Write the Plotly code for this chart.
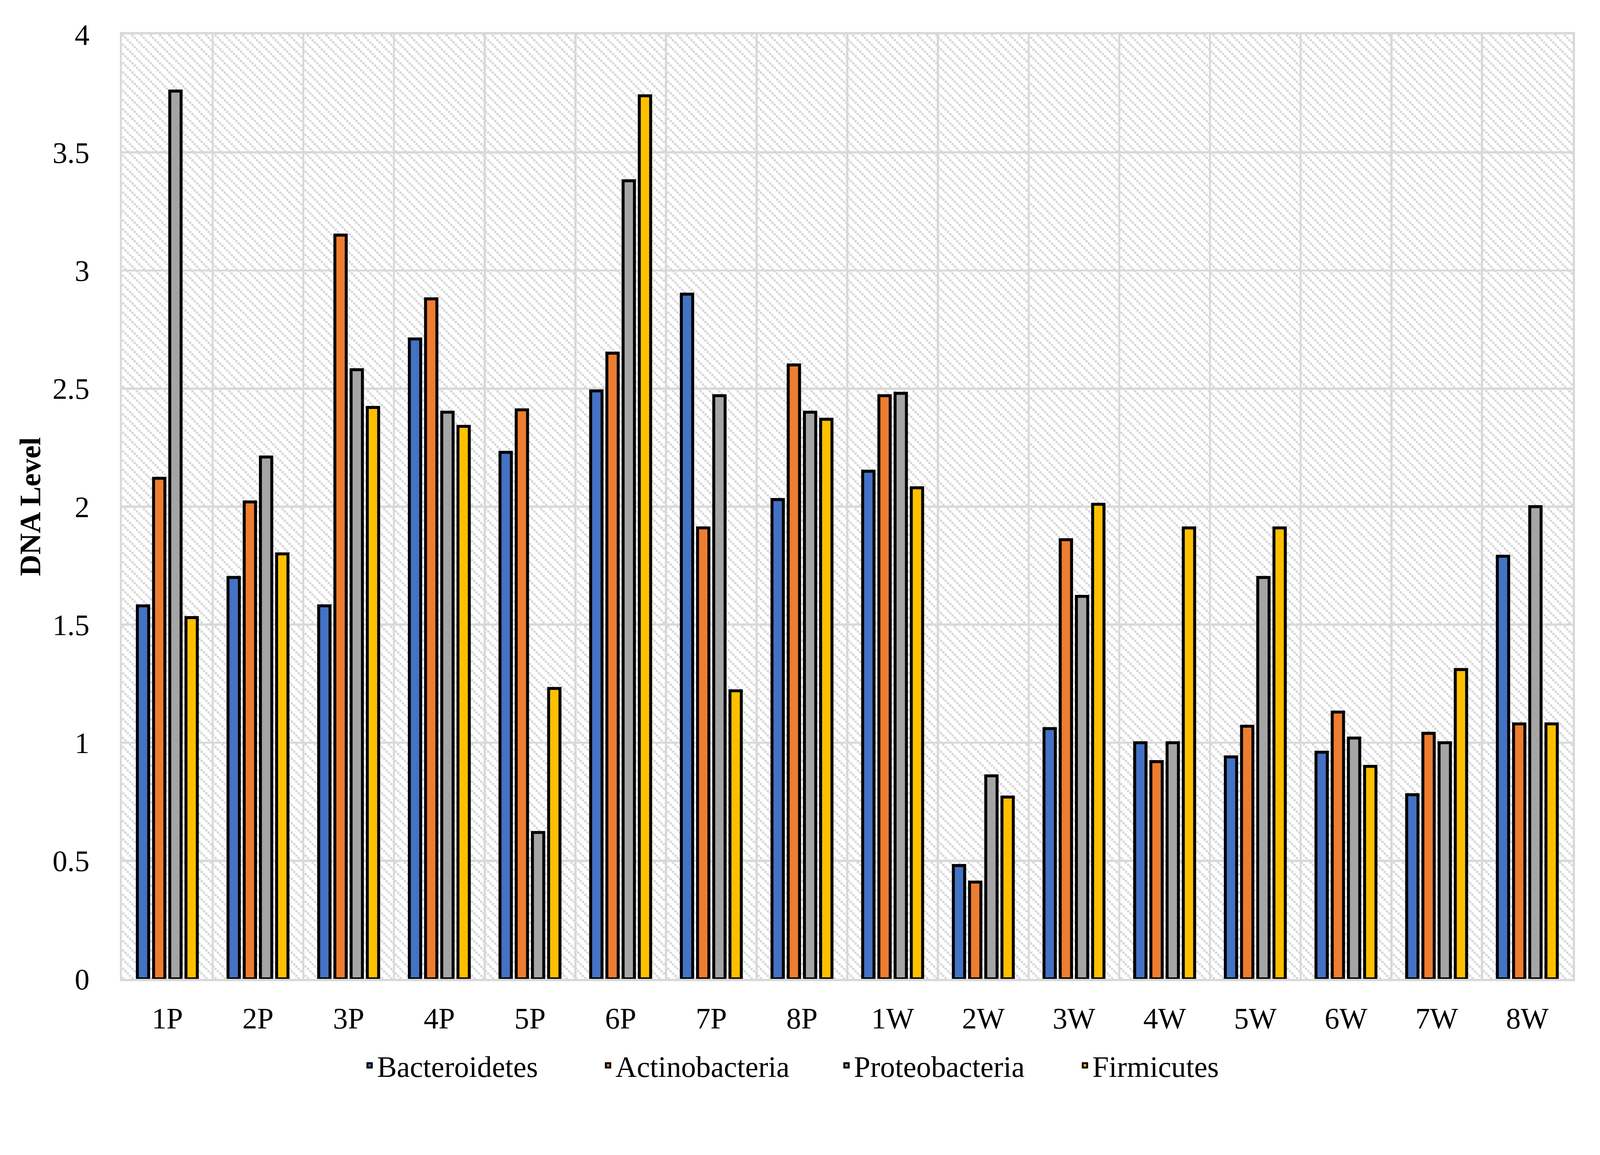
import base64
import plotly.graph_objects as go

categories = ["1P", "2P", "3P", "4P", "5P", "6P", "7P", "8P",
              "1W", "2W", "3W", "4W", "5W", "6W", "7W", "8W"]
bacteroidetes = [1.58, 1.70, 1.58, 2.71, 2.23, 2.49, 2.90, 2.03,
                 2.15, 0.48, 1.06, 1.00, 0.94, 0.96, 0.78, 1.79]
actinobacteria = [2.12, 2.02, 3.15, 2.88, 2.41, 2.65, 1.91, 2.60,
                  2.47, 0.41, 1.86, 0.92, 1.07, 1.13, 1.04, 1.08]
proteobacteria = [3.76, 2.21, 2.58, 2.40, 0.62, 3.38, 2.47, 2.40,
                  2.48, 0.86, 1.62, 1.00, 1.70, 1.02, 1.00, 2.00]
firmicutes = [1.53, 1.80, 2.42, 2.34, 1.23, 3.74, 1.22, 2.37,
              2.08, 0.77, 2.01, 1.91, 1.91, 0.90, 1.31, 1.08]
series_names = ["Bacteroidetes", "Actinobacteria", "Proteobacteria", "Firmicutes"]
series_values = [bacteroidetes, actinobacteria, proteobacteria, firmicutes]
series_colors = ["#4472C4", "#ED7D31", "#A5A5A5", "#FFC000"]
y_ticks = [0, 0.5, 1, 1.5, 2, 2.5, 3, 3.5, 4]

W, H = 4328, 2957
ML, MR, MT, MB = 330, 74, 93, 309
PW, PH = W - ML - MR, H - MT - MB

FONT = "Liberation Serif"

fig = go.Figure()
for name, vals, col in zip(series_names, series_values, series_colors):
    fig.add_trace(go.Bar(
        name=name, x=categories, y=vals,
        marker=dict(color=col, line=dict(color="black", width=8)),
    ))

# hatched plot-area background (light grey downward diagonal pattern)
p = 25
s = p / 4
rects = "".join(
    f'<rect x="{i*s}" y="{i*s}" width="{s}" height="{s}" fill="#d9d9d9"/>' for i in range(4)
)
svg = (
    f'<svg xmlns="http://www.w3.org/2000/svg" width="{PW}" height="{PH}" '
    f'viewBox="0 0 {PW} {PH}" preserveAspectRatio="none">'
    f'<defs><pattern id="h" patternUnits="userSpaceOnUse" width="{p}" height="{p}">'
    f'{rects}</pattern></defs>'
    f'<rect width="{PW}" height="{PH}" fill="white"/>'
    f'<rect width="{PW}" height="{PH}" fill="url(#h)"/></svg>'
)
src = "data:image/svg+xml;base64," + base64.b64encode(svg.encode()).decode()
fig.add_layout_image(dict(
    source=src, xref="paper", yref="paper", x=0, y=1, sizex=1, sizey=1,
    xanchor="left", yanchor="top", sizing="stretch", layer="below",
))

fig.update_layout(
    width=W, height=H,
    margin=dict(l=ML, r=MR, t=MT, b=MB, autoexpand=False),
    paper_bgcolor="white", plot_bgcolor="rgba(0,0,0,0)",
    barmode="group", bargap=0.285, bargroupgap=0.3,
    font=dict(family=FONT, size=80, color="black"),
    legend=dict(
        orientation="h", x=0.1656, xanchor="left", y=-0.0916, yanchor="middle",
        font=dict(family=FONT, size=80, color="black"),
        entrywidth=600, entrywidthmode="pixels", traceorder="normal",
        bgcolor="rgba(0,0,0,0)",
    ),
    showlegend=True,
)
fig.update_xaxes(
    type="category", tickson="boundaries", showgrid=True,
    gridcolor="#d9d9d9", gridwidth=6,
    showline=True, mirror=True, linecolor="#d9d9d9", linewidth=6,
    ticks="", ticklabelstandoff=32,
    tickfont=dict(family=FONT, size=80, color="black"),
)
fig.update_yaxes(
    range=[0, 4], tickvals=y_ticks, showgrid=True,
    gridcolor="#d9d9d9", gridwidth=6, zeroline=False,
    showline=True, mirror=True, linecolor="#d9d9d9", linewidth=6,
    ticks="", ticklabelstandoff=66,
    tickfont=dict(family=FONT, size=80, color="black"),
    title=dict(text="<b>DNA Level</b>", standoff=8,
               font=dict(family=FONT, size=80, color="black")),
)

fit_script = """
var gd = document.getElementById('{plot_id}');
document.body.style.margin = '0';
document.body.style.overflow = 'hidden';
var sc = Math.min(window.innerWidth / %d, window.innerHeight / %d);
if (Math.abs(sc - 1) > 0.002) {
  gd.style.transformOrigin = '0 0';
  gd.style.transform = 'scale(' + sc + ')';
}
""" % (W, H)

fig.write_html("out.html", post_script=fit_script,
               config={"displayModeBar": False})
